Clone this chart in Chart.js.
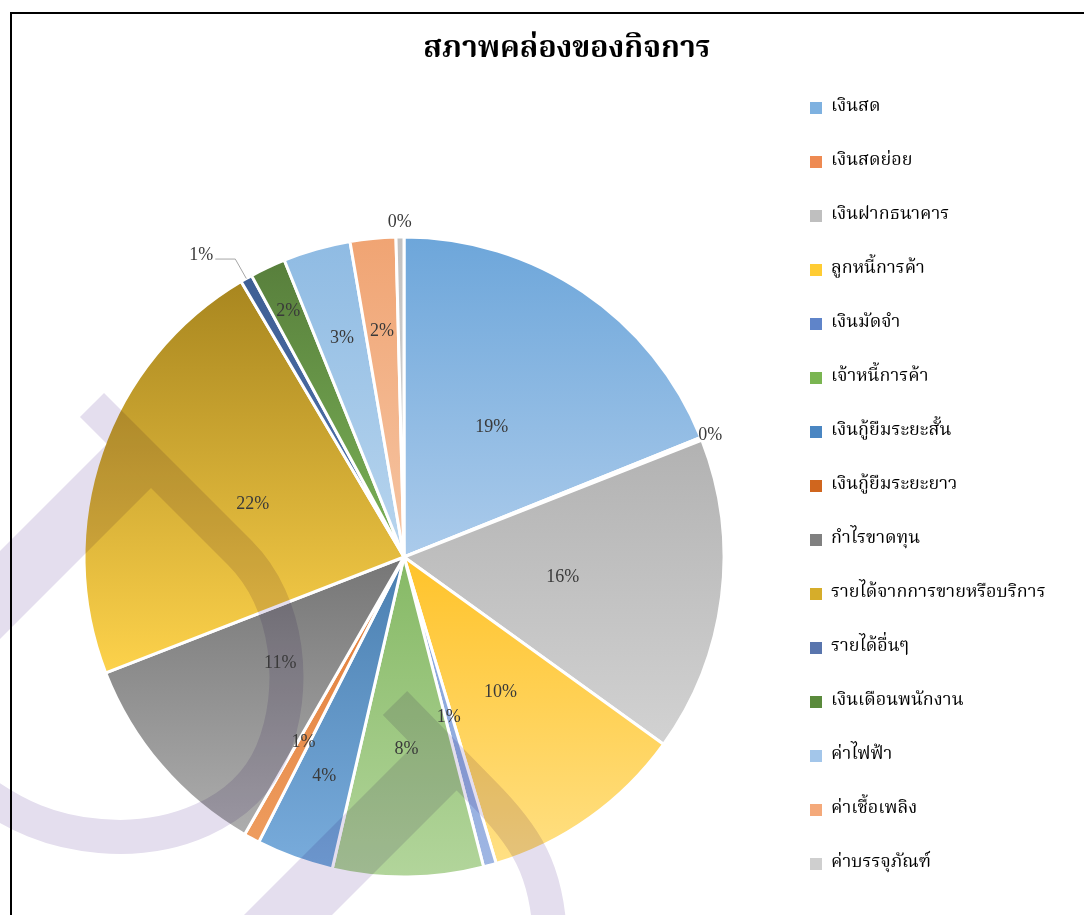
<!DOCTYPE html>
<html><head><meta charset="utf-8">
<script src="https://cdn.jsdelivr.net/npm/chart.js@4/dist/chart.umd.min.js"></script>
<style>
html,body{margin:0;padding:0;background:#fff;overflow:hidden;width:1084px;height:915px;}
#wrap{position:absolute;left:0;top:0;}
#frame{position:absolute;left:10px;top:12px;width:1200px;height:1000px;border-left:2px solid #000;border-top:2px solid #000;box-sizing:border-box;pointer-events:none;}
</style></head><body>
<div id="wrap"><canvas id="c"></canvas></div>
<div id="frame"></div>
<script>
// ---------- data ----------
const chartTitle = 'สภาพคล่องของกิจการ';
const categories = ['เงินสด','เงินสดย่อย','เงินฝากธนาคาร','ลูกหนี้การค้า','เงินมัดจำ','เจ้าหนี้การค้า','เงินกู้ยืมระยะสั้น','เงินกู้ยืมระยะยาว','กำไรขาดทุน','รายได้จากการขายหรือบริการ','รายได้อื่นๆ','เงินเดือนพนักงาน','ค่าไฟฟ้า','ค่าเชื้อเพลิง','ค่าบรรจุภัณฑ์'];
const shares = [18.9, 0.15, 15.9, 10.4, 0.65, 7.6, 3.9, 0.8, 10.8, 22.4, 0.6, 1.8, 3.4, 2.3, 0.4];

// ---------- style ----------
const topColors    = ['#6da6da','#ed7d31','#b2b2b2','#ffc32a','#7f9fd9','#86b965','#4a7fb0','#e07a35','#767676','#a8861f','#3f5f94','#587f3c','#8fbbe3','#f0a473','#c2c2c2'];
const bottomColors = ['#abcbeb','#f4b183','#d2d2d2','#ffe084','#9fb6e3','#b2d59b','#79acdc','#ee9c5e','#adadad','#fdd24b','#4f72ad','#7bb257','#b8d5ee','#f6c5a3','#d7d7d7'];
const legendColors = ['#7eb1e0','#ee8a52','#bfbfbf','#ffcc33','#5f84c9','#7ab551','#4a86c2','#d0661e','#808080','#d6ad2a','#5975ad','#5a8a3c','#a3c6ea','#f4a97a','#cfcfcf'];
const labelPlacement = [{r:0.49},{r:1.03},{r:0.5},{r:0.52},{r:0.52},{r:0.6},{r:0.73},{r:0.66},{r:0.51},{r:0.5},{leader:true},{r:0.85},{r:0.71},{r:0.71},{r:1.047}];

const THAI = "'Noto Serif Thai','Noto Sans Thai','Tahoma','Noto Sans',sans-serif";
const legendFontSize = 18, legendPad = 36, boxW = 12;
const pieRadius = 320;
const padLeft = 34, legendLeft = 774, W = 1100, H = 972;

const cv = document.getElementById('c');
cv.width = W; cv.height = H; cv.style.width = W + 'px'; cv.style.height = H + 'px';

function sliceFill(ctx) {
  const i = ctx.dataIndex;
  const chart = ctx.chart, ca = chart.chartArea;
  if (!ca || ctx.type !== 'data') return legendColors[i];
  const data = chart.data.datasets[0].data;
  const total = data.reduce((a, b) => a + b, 0);
  let cum = 0; for (let k = 0; k < i; k++) cum += data[k];
  const s = -Math.PI / 2 + cum / total * 2 * Math.PI;
  const e = s + data[i] / total * 2 * Math.PI;
  const cy = (ca.top + ca.bottom) / 2, r = pieRadius;
  const ys = [cy, cy + r * Math.sin(s), cy + r * Math.sin(e)];
  if (s <= Math.PI / 2 && e >= Math.PI / 2) ys.push(cy + r);
  const y0 = Math.min(...ys), y1 = Math.max(...ys);
  const g = chart.ctx.createLinearGradient(0, y0, 0, Math.max(y1, y0 + 1));
  g.addColorStop(0, topColors[i]);
  g.addColorStop(1, bottomColors[i]);
  return g;
}

// empty layout box outside the legend so the full-width title centres like the original
const spacer = {
  id: 'spacer',
  beforeInit(chart) {
    Chart.layouts.addBox(chart, {
      position: 'right', fullSize: true, weight: 1500, options: { display: false },
      width: 0, height: 0,
      isHorizontal() { return false; },
      update(maxWidth, maxHeight) {
        const lw = (chart.legend && chart.legend.width) || 0;
        const w = W - legendLeft - lw;
        this.width = (isFinite(w) && w > 0) ? w : 0;
        this.height = maxHeight;
      },
      draw() {}
    });
  }
};

const watermark = {
  id: 'watermark',
  afterDatasetsDraw(chart) {
    const off = document.createElement('canvas');
    off.width = chart.width; off.height = chart.height;
    const o = off.getContext('2d');
    o.fillStyle = '#e4deee'; o.strokeStyle = '#e4deee';
    const band = (dx, dy) => {
      o.beginPath();
      o.moveTo(-200 + dx, 751 + dy); o.lineTo(119 + dx, 432 + dy);
      o.lineTo(163 + dx, 476 + dy); o.lineTo(-200 + dx, 839 + dy);
      o.closePath(); o.fill();
    };
    band(0, 0); band(310, 298);
    o.lineWidth = 34;
    o.beginPath();
    o.moveTo(92, 405); o.lineTo(240, 553);
    o.bezierCurveTo(290, 603, 298, 690, 272, 752);
    o.bezierCurveTo(245, 815, 170, 842, 100, 836);
    o.bezierCurveTo(50, 832, 15, 815, -20, 790);
    o.stroke();
    o.beginPath();
    o.moveTo(395, 703); o.lineTo(482, 792);
    o.bezierCurveTo(525, 835, 548, 870, 550, 940);
    o.stroke();
    const c = chart.ctx;
    c.save();
    c.globalCompositeOperation = 'multiply';
    c.drawImage(off, 0, 0, chart.width, chart.height);
    c.restore();
  }
};

const sliceLabels = {
  id: 'sliceLabels',
  afterDatasetsDraw(chart) {
    const meta = chart.getDatasetMeta(0);
    const data = chart.data.datasets[0].data;
    const total = data.reduce((a, b) => a + b, 0);
    const c = chart.ctx;
    c.save();
    c.font = "18px 'Liberation Serif','Times New Roman',serif";
    c.fillStyle = '#3a3a3a';
    c.textBaseline = 'middle';
    meta.data.forEach((arc, i) => {
      const p = arc.getProps(['x', 'y', 'startAngle', 'endAngle', 'outerRadius'], true);
      const mid = (p.startAngle + p.endAngle) / 2;
      const txt = Math.round(data[i] / total * 100) + '%';
      const pl = labelPlacement[i];
      if (pl.leader) {
        const ex = p.x + Math.cos(mid) * p.outerRadius, ey = p.y + Math.sin(mid) * p.outerRadius;
        const bx = p.x + Math.cos(mid) * p.outerRadius * 1.07, by = p.y + Math.sin(mid) * p.outerRadius * 1.07;
        const hx = bx - 20;
        c.strokeStyle = '#a6a6a6'; c.lineWidth = 1;
        c.beginPath(); c.moveTo(ex, ey); c.lineTo(bx, by); c.lineTo(hx, by); c.stroke();
        c.textAlign = 'right';
        c.fillText(txt, hx - 2, by - 4);
      } else {
        const r = p.outerRadius * pl.r;
        c.textAlign = 'center';
        c.fillText(txt, p.x + Math.cos(mid) * r, p.y + Math.sin(mid) * r);
      }
    });
    c.restore();
  }
};

new Chart(cv, {
  type: 'pie',
  data: {
    labels: categories,
    datasets: [{
      data: shares,
      backgroundColor: sliceFill,
      borderColor: '#ffffff',
      borderWidth: 3,
      radius: pieRadius,
      hoverOffset: 0
    }]
  },
  options: {
    responsive: false,
    devicePixelRatio: 1,
    animation: false,
    layout: { padding: { left: padLeft, right: 0, top: 0, bottom: 0 } },
    plugins: {
      title: {
        display: true, text: chartTitle, fullSize: true, color: '#000000',
        font: { family: THAI, size: 30, weight: 'bold', lineHeight: 1.2 },
        padding: { top: 34, bottom: 142 - 34 - 36 }
      },
      legend: {
        position: 'right', align: 'center', fullSize: true,
        labels: {
          boxWidth: boxW, boxHeight: 12, padding: legendPad, color: '#595959',
          font: { family: THAI, size: legendFontSize },
          generateLabels: () => categories.map((t, i) => ({
            text: t, fillStyle: legendColors[i], strokeStyle: legendColors[i],
            lineWidth: 0, hidden: false, index: i, datasetIndex: 0
          }))
        }
      },
      tooltip: { enabled: false }
    }
  },
  plugins: [spacer, watermark, sliceLabels]
});
</script></body></html>
